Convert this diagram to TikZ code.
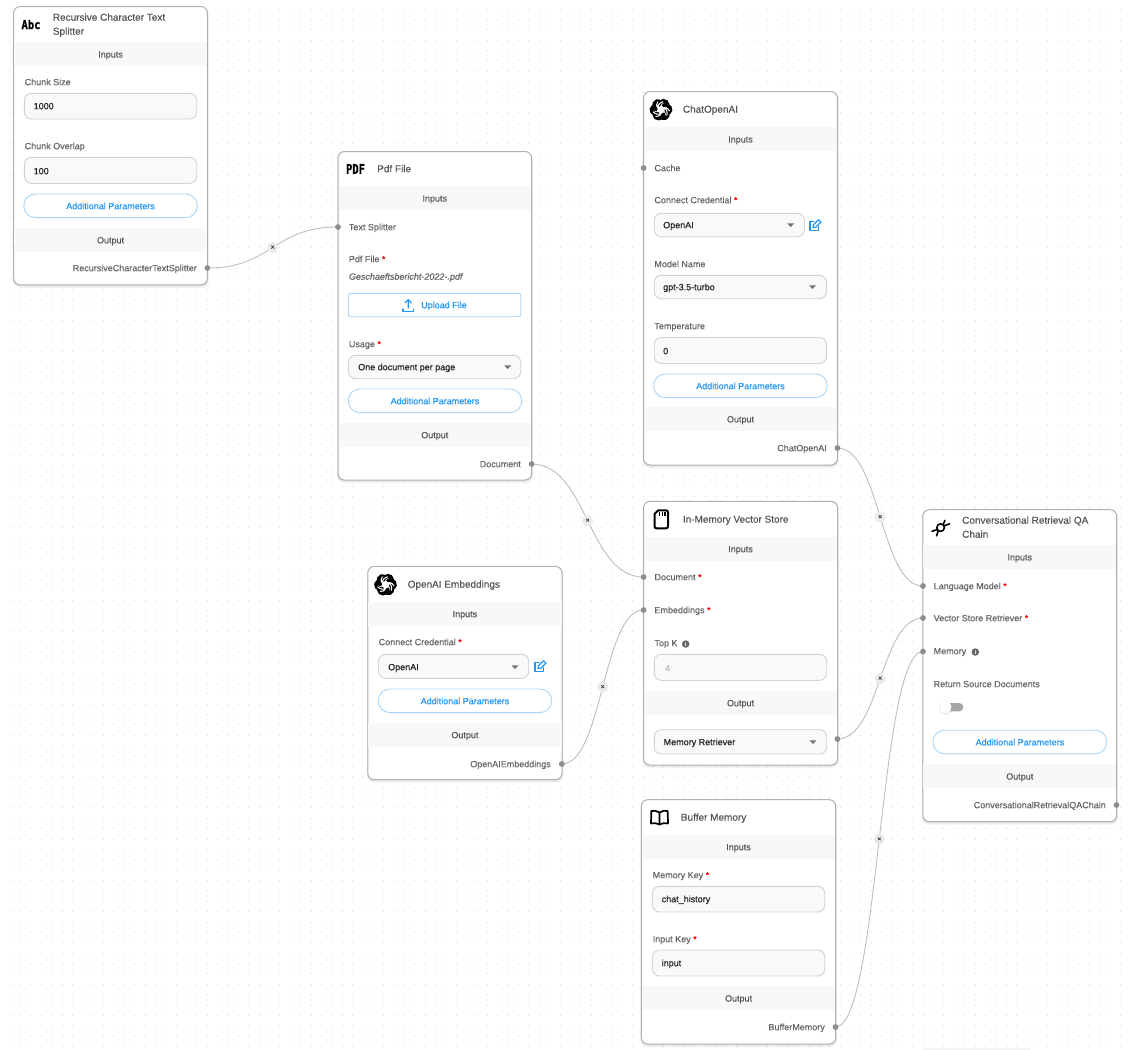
\documentclass[tikz,border=0pt]{standalone}
\usepackage{fontspec}
\setmainfont[FakeBold=0.08]{Liberation Sans}
\newfontfamily\medfont[FakeBold=0.25]{Liberation Sans}
\newfontfamily\iconfont[FakeBold=1.2]{DejaVu Sans Mono Bold}
\usetikzlibrary{calc}
\definecolor{labc}{HTML}{646464}
\definecolor{valc}{HTML}{222222}
\definecolor{bluec}{HTML}{2196F3}
\definecolor{bluel}{HTML}{A9D6FA}
\definecolor{bandc}{HTML}{F8F8F8}
\definecolor{fieldb}{HTML}{D2D2D2}
\definecolor{fieldf}{HTML}{F9F9F9}
\definecolor{cardb}{HTML}{B0B0B0}
\definecolor{handlec}{HTML}{8E8E8E}
\definecolor{edgec}{HTML}{BEBEBE}
\definecolor{dotc}{HTML}{D8D8D8}
\pgfdeclarelayer{under}
\pgfsetlayers{under,main}
\newcounter{tn}
\tikzset{
  x=1pt,y=-1pt,
  txt/.style={inner sep=0pt,text height=6.4pt,text depth=0pt,font=\fontsize{9}{10}\selectfont},
  lab/.style={txt,anchor=west,text=labc},
  labr/.style={txt,anchor=east,text=labc},
  ctr/.style={txt,anchor=center,text=labc!85!black},
  val/.style={txt,anchor=west,text=valc,font=\fontsize{9}{10}\medfont},
  ttl/.style={txt,anchor=west,text=labc!85!black,font=\fontsize{10}{10}\medfont},
  blu/.style={txt,anchor=center,text=bluec,font=\fontsize{9}{10}\medfont},
  iconf/.style={inner sep=0pt,anchor=center,text=black,font=\fontsize{10.5}{10}\iconfont},
  cardbox/.style={draw=cardb,fill=white,line width=1pt,rounded corners=6.5pt,inner sep=0pt},
  fieldbox/.style={draw=fieldb,fill=fieldf,line width=.9pt,rounded corners=7pt,inner sep=0pt},
  pillbox/.style={draw=bluel,fill=white,line width=.9pt,rounded corners=11.5pt,inner sep=0pt},
  upbox/.style={draw=bluel,fill=white,line width=.9pt,rounded corners=2pt,inner sep=0pt},
  handle/.style={circle,fill=handlec,inner sep=0pt,minimum size=5.8pt},
  conn/.style={draw=edgec,line width=.9pt},
  xbtn/.style={circle,fill=black!8,inner sep=0pt,minimum size=11pt,text=black!75,font=\fontsize{7}{7}\medfont},
  icn/.style={line width=2pt,draw=black,line join=round,line cap=round},
}
\newcommand\BX[6][]{%
  \pgfmathsetlengthmacro\bw{(#5)-(#3)}\pgfmathsetlengthmacro\bh{(#6)-(#4)}%
  \stepcounter{tn}%
  \node[#2,minimum width=\bw,minimum height=\bh,#1] (b\arabic{tn}) at ({((#3)+(#5))/2},{((#4)+(#6))/2}) {};}
\newcommand\T[4]{\stepcounter{tn}\node[#1] (t\arabic{tn}) at ({#2},{#3}) {#4};}
\newcommand\req{\ \textcolor{red}{*}}
\newcommand\drop[2]{\fill[black!55] ({#1-3.6},{#2-1.7}) -- ({#1+3.6},{#2-1.7}) -- ({#1},{#2+2}) -- cycle;}
\newcommand\info[2]{\stepcounter{tn}\node[circle,fill=black!60,inner sep=0pt,minimum size=7.5pt,text=white,font=\fontsize{6}{6}\medfont] (t\arabic{tn}) at (#1,#2) {i};}
\newcommand\pill[3]{\BX{pillbox}{#1}{#3}{#2}{#3+23.6}\T{blu}{(#1+#2)/2}{#3+12}{Additional Parameters}}
\newcommand\CARD[7]{% name x1 y1 x2 y2 inputs-top output-top
  \fill[black,opacity=.05,rounded corners=7pt] ({#2-1},{#3+1}) rectangle ({#4+1.5},{#5+3});
  \fill[black,opacity=.05,rounded corners=7pt] ({#2-.5},{#3+1}) rectangle ({#4+.7},{#5+1.7});
  \BX[name=#1]{cardbox}{#2}{#3}{#4}{#5}
  \fill[bandc] ({#2+.5},{#6}) rectangle ({#4-.5},{#6+24});
  \T{ctr}{(#2+#4)/2}{#6+12}{Inputs}
  \fill[bandc] ({#2+.5},{#7}) rectangle ({#4-.5},{#7+24});
  \T{ctr}{(#2+#4)/2}{#7+12}{Output}
}
\newcommand\openlogo[2]{%
  \begin{scope}[shift={(#1,#2)}]
    \foreach \a in {0,60,...,300}{
      \draw[line width=3.8pt,black,rotate=\a,line cap=round]
        (-2.6,-4.4) .. controls (-1,-10.2) and (6,-10) .. (6.6,-5);
    }
    \foreach \a in {0,120,240}{
      \draw[line width=1pt,white,rotate=\a] (-3,-1.6) .. controls (-3.6,-4) and (-1.6,-7) .. (2.2,-8);
      \draw[line width=1pt,white,rotate=\a] (3,-1.6) .. controls (6,-1.8) and (7.6,-1.2) .. (8.6,1.4);
    }
    \fill[white] (0,0) circle (2.6);
  \end{scope}}
\newcommand\editicon[2]{%
  \begin{scope}[shift={(#1,#2)},line width=1.2pt,draw=bluec,line join=round,line cap=round]
    \draw (-1,-4) -- (-5,-4) -- (-5,5) -- (3.5,5) -- (3.5,1);
    \draw (-2,2) -- (-1.5,-.7) -- (3.6,-5.8) -- (6,-3.4) -- (.8,1.6) -- cycle;
  \end{scope}}
\newcommand\EDGE[2]{\stepcounter{tn}%
  \path let \p1=(#1.center),\p2=(#2.center),\n1={(\x2-\x1)/2} in
    [conn] (#1.center) .. controls ($(#1.center)+(\n1,0pt)$) and ($(#2.center)-(\n1,0pt)$) .. (#2.center)
    node[pos=.5,xbtn] (x\arabic{tn}) {×};}
\begin{document}
\begin{tikzpicture}
\useasboundingbox (0,0) rectangle (1128,1050);
\begin{pgfonlayer}{under}
\fill[white] (0,0) rectangle (1128,1050);
\foreach \k in {0,...,101}{
  \draw[dotc,line width=.9pt,dash pattern=on .9pt off 9.475pt] (-.65,{-1.4+10.375*\k}) -- (1128,{-1.4+10.375*\k});
}
\fill[black!4] (923,1047.5) rectangle (1030,1050);
\end{pgfonlayer}

% ---------- Recursive Character Text Splitter
\CARD{splitter}{13.7}{6.5}{207.4}{284.8}{42.3}{228.2}
\T{iconf}{31}{24.5}{\scalebox{1}[1.15]{Abc}}
\T{ttl}{52.7}{17.5}{Recursive Character Text}
\T{ttl}{52.7}{31.5}{Splitter}
\T{lab}{24.5}{82}{Chunk Size}
\BX{fieldbox}{24.3}{93.3}{196.7}{119}
\T{val}{33.5}{106}{1000}
\T{lab}{24.5}{146}{Chunk Overlap}
\BX{fieldbox}{24.3}{157.3}{196.7}{183.3}
\T{val}{33.5}{171}{100}
\pill{23.8}{197.3}{194}
\T{labr}{197}{268}{RecursiveCharacterTextSplitter}
\node[handle] (hsplitout) at (207.4,268) {};

% ---------- Pdf File
\CARD{pdf}{338}{151.5}{531.6}{480}{186.3}{423}
\T{iconf}{355.5}{169}{\scalebox{1}[1.3]{PDF}}
\T{ttl}{377}{169}{Pdf File}
\node[handle] (hpdfin) at (338,227) {};
\T{lab}{348.7}{227}{Text Splitter}
\T{lab}{348.7}{259}{Pdf File\req}
\T{lab}{348.7}{276.5}{\itshape Geschaeftsbericht-2022-.pdf}
\BX{upbox}{348.5}{293.3}{520.7}{316.7}
\T{blu}{444}{305}{Upload File}
\draw[bluec,line width=1.1pt,line cap=round,line join=round] (403,309) -- (403,311.5) -- (413.5,311.5) -- (413.5,309);
\draw[bluec,line width=1.1pt,line cap=round,line join=round] (408.2,308) -- (408.2,300) (405,303) -- (408.2,299.6) -- (411.4,303);
\T{lab}{348.7}{344}{Usage\req}
\BX{fieldbox}{348.5}{355.3}{520.7}{378.7}
\T{val}{358}{367}{One document per page}
\drop{507.7}{367}
\pill{348.3}{521.7}{389}
\T{labr}{521}{464}{Document}
\node[handle] (hpdfout) at (531.6,464) {};

% ---------- ChatOpenAI
\CARD{chat}{643.6}{91.5}{837.4}{465}{127.3}{407.2}
\openlogo{661}{109.7}
\T{ttl}{682.7}{109.5}{ChatOpenAI}
\node[handle] (hcache) at (643.6,168) {};
\T{lab}{654.2}{168}{Cache}
\T{lab}{654.2}{200}{Connect Credential\req}
\BX{fieldbox}{654.2}{213.3}{804.5}{236.7}
\T{val}{663}{225}{OpenAI}
\drop{790.7}{225}
\editicon{815}{225.5}
\T{lab}{654.2}{264}{Model Name}
\BX{fieldbox}{654.2}{275.3}{826.5}{298.7}
\T{val}{663}{287}{gpt-3.5-turbo}
\drop{812.5}{287}
\T{lab}{654.2}{326}{Temperature}
\BX{fieldbox}{654.2}{337.5}{826.5}{363.5}
\T{val}{663}{351}{0}
\pill{653.7}{827.2}{374}
\T{labr}{827}{448}{ChatOpenAI}
\node[handle] (hchatout) at (837.4,448) {};

% ---------- OpenAI Embeddings
\CARD{emb}{367.8}{566.4}{562}{779.7}{602}{723}
\openlogo{385.5}{584.7}
\T{ttl}{407.5}{584.5}{OpenAI Embeddings}
\T{lab}{378.5}{642}{Connect Credential\req}
\BX{fieldbox}{378.5}{654.3}{528.7}{678.3}
\T{val}{388}{667}{OpenAI}
\drop{515}{667}
\editicon{540}{666.5}
\pill{378.3}{551.7}{689}
\T{labr}{551}{764}{OpenAIEmbeddings}
\node[handle] (hembout) at (561.8,764) {};

% ---------- In-Memory Vector Store
\CARD{store}{643.5}{501.4}{837.6}{765}{537}{691}
\draw[icn] (654.5,514) -- (658.2,510.4) -- (666,510.4) .. controls (667.5,510.4) and (668,511) .. (668,512.4) -- (668,526) .. controls (668,527.5) and (667.5,528.3) .. (666,528.3) -- (656.5,528.3) .. controls (655,528.3) and (654.5,527.5) .. (654.5,526) -- cycle;
\draw[line width=1.2pt,black] (659.7,512) -- (659.7,515.5) (662.3,512) -- (662.3,515.5) (664.9,512) -- (664.9,515.5);
\T{ttl}{682.7}{519.5}{In-Memory Vector Store}
\node[handle] (hdoc) at (643.6,577) {};
\T{lab}{654.3}{577}{Document\req}
\node[handle] (hembin) at (643.6,610) {};
\T{lab}{654.3}{610}{Embeddings\req}
\T{lab}{654.3}{643}{Top K}
\info{685.7}{644}
\BX{fieldbox}{654.3}{654.3}{826.7}{680.3}
\T{lab,text=black!25}{665}{668}{4}
\BX{fieldbox}{654.3}{729.7}{826.7}{754}
\T{val}{663.5}{742}{Memory Retriever}
\drop{813}{742}
\node[handle] (hstoreout) at (837.4,739) {};

% ---------- Buffer Memory
\CARD{buffer}{641.4}{799.7}{835.7}{1044}{835}{986.3}
\draw[icn,line width=1.7pt] (659.5,812.5) .. controls (657,810.5) and (653.5,810.5) .. (651.3,811) -- (651,823.5) .. controls (653.5,822.8) and (657,822.8) .. (659.5,824.5) .. controls (662,822.8) and (665.5,822.8) .. (668,823.5) -- (667.7,811) .. controls (665.5,810.5) and (662,810.5) .. (659.5,812.5) -- cycle (659.5,812.5) -- (659.5,824.5);
\T{ttl}{680.7}{817.5}{Buffer Memory}
\T{lab}{652.5}{875}{Memory Key\req}
\BX{fieldbox}{652.5}{886.3}{824.7}{912}
\T{val}{661.5}{899}{chat\_history}
\T{lab}{652.5}{939}{Input Key\req}
\BX{fieldbox}{652.5}{950}{824.7}{976}
\T{val}{661.5}{963}{input}
\T{labr}{825}{1027}{BufferMemory}
\node[handle] (hbufout) at (835.5,1027) {};

% ---------- Conversational Retrieval QA Chain
\CARD{conv}{922.8}{509.7}{1116.7}{821.7}{545.2}{764.4}
\draw[icn,line width=1.6pt] (940.6,527.6) circle (3.8);
\draw[icn,line width=1.6pt] (943.2,524.4) -- (945,520.3) (944.2,525.8) -- (949.6,523.8)
  (937.2,529.6) -- (932,531.3) (938.2,530.8) -- (936.6,535.8);
\T{ttl}{962}{520.5}{Conversational Retrieval QA}
\T{ttl}{962}{534.5}{Chain}
\node[handle] (hlm) at (923,586) {};
\T{lab}{933.5}{586}{Language Model\req}
\node[handle] (hvs) at (923,618) {};
\T{lab}{933.5}{618}{Vector Store Retriever\req}
\node[handle] (hmem) at (923,651.5) {};
\T{lab}{933.5}{651}{Memory}
\info{975.3}{652}
\T{lab}{933.5}{684}{Return Source Documents}
\fill[black!35,rounded corners=4pt] (945,703) rectangle (963.3,711.3);
\fill[black,opacity=.08] (945.5,708) circle (6.6);
\fill[white] (945.5,707.3) circle (5.9);
\pill{933}{1106.8}{730.2}
\T{labr}{1106}{805}{ConversationalRetrievalQAChain}
\node[handle] (hconvout) at (1116.5,805) {};

% ---------- Connectors
\begin{pgfonlayer}{under}
\EDGE{hsplitout}{hpdfin}
\EDGE{hpdfout}{hdoc}
\EDGE{hembout}{hembin}
\EDGE{hchatout}{hlm}
\EDGE{hstoreout}{hvs}
\EDGE{hbufout}{hmem}
\end{pgfonlayer}
\end{tikzpicture}
\end{document}
